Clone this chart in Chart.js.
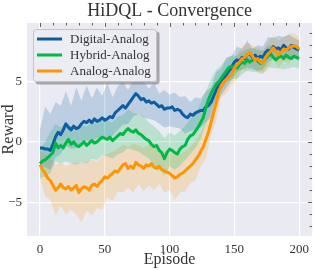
<!DOCTYPE html>
<html><head><meta charset="utf-8">
<script src="https://cdn.jsdelivr.net/npm/chart.js@4"></script>
<style>html,body{margin:0;padding:0;background:#fff}#wrap{width:315px;height:270px}</style>
</head><body><div id="wrap"><canvas id="c" width="315" height="270"></canvas></div>
<script>
// ---- data ----
const chartTitle = 'HiDQL - Convergence';
const seriesNames = ['Digital-Analog', 'Hybrid-Analog', 'Analog-Analog'];
const xTicks = [0, 50, 100, 150, 200];
const yTicks = [-5, 0, 5];
const meanStep = 2;   // mean curves sampled every 2 episodes (0..200)
const bandStep = 4;   // bands sampled every 4 episodes (0..200)

const digitalMean = [-0.5,-0.5,-0.6,-0.6,-0.7,-0.2,0.4,0.8,0.6,1.0,1.5,1.2,1.0,1.3,1.1,1.2,1.5,1.7,1.6,1.8,1.6,1.9,1.7,1.8,2.0,1.8,1.9,2.1,2.0,2.4,2.6,2.8,3.0,2.8,3.1,3.4,3.7,4.0,3.8,3.5,3.6,3.3,3.4,3.2,3.3,3.1,2.9,3.0,2.7,2.8,2.8,2.9,2.6,2.7,2.6,2.3,2.1,2.0,2.3,2.2,2.4,2.5,2.6,2.6,2.9,3.0,3.3,3.8,4.3,4.7,5.1,5.3,5.6,5.9,6.2,6.6,6.8,6.7,7.0,6.9,7.2,7.3,7.0,7.2,6.9,7.1,7.0,7.4,7.6,7.5,7.9,7.7,7.8,7.6,8.0,7.8,7.7,8.0,7.8,7.7,7.6];
const hybridMean = [-1.8,-1.6,-1.5,-1.3,-1.1,-0.9,-0.1,-0.5,-0.3,-0.5,-0.1,0.2,-0.2,0.0,-0.3,-0.4,-0.2,0.0,-0.3,-0.1,0.1,-0.1,0.0,0.2,0.4,0.3,0.2,0.4,0.1,0.3,0.5,0.7,0.6,0.9,1.1,0.9,0.8,1.0,0.7,0.6,0.4,0.2,0.1,-0.2,-0.4,-0.3,-0.7,-0.9,-1.4,-0.9,-0.6,-0.7,-0.9,-1.0,-0.6,-0.4,-0.3,0.2,0.5,0.6,0.9,1.2,1.6,2.0,2.8,3.5,4.0,4.4,4.8,5.0,5.3,5.6,5.9,6.2,6.2,6.3,6.1,6.4,6.6,6.5,6.8,6.6,6.8,6.9,6.7,6.5,6.6,6.9,7.1,7.3,7.0,6.8,7.0,7.1,6.9,7.2,7.0,6.9,7.1,7.0,6.9];
const analogMean = [-1.9,-2.3,-2.6,-3.0,-3.2,-3.6,-4.0,-3.8,-3.5,-3.8,-3.9,-3.7,-4.0,-3.8,-3.6,-4.2,-3.9,-3.7,-3.8,-4.0,-3.6,-3.5,-3.7,-3.4,-3.2,-2.9,-3.0,-2.8,-2.6,-2.4,-2.5,-2.2,-1.9,-1.8,-2.2,-2.0,-2.2,-1.7,-1.9,-2.0,-2.2,-1.9,-2.0,-1.8,-2.1,-2.2,-2.0,-2.3,-2.4,-2.5,-2.6,-2.8,-3.0,-2.9,-2.7,-2.6,-2.4,-2.2,-2.0,-1.8,-1.5,-1.2,-0.8,-0.4,0.2,0.8,1.6,2.4,3.2,4.2,4.7,5.0,5.2,5.4,5.6,6.1,6.4,6.6,6.9,7.0,7.2,7.4,7.1,6.8,6.9,6.6,6.5,7.0,7.3,7.5,7.8,7.5,7.2,7.4,7.7,7.6,7.8,7.9,8.0,7.9,7.7];

const digitalUpper = [1.0,2.9,2.3,3.3,3.0,4.2,3.0,4.5,3.4,4.7,3.6,4.5,3.8,4.9,3.7,4.6,5.0,4.3,5.2,4.9,5.0,4.4,4.9,4.0,4.3,3.9,4.1,3.7,3.8,3.3,3.7,3.6,4.2,4.5,5.8,6.1,7.0,7.1,7.9,7.7,8.4,7.7,8.0,7.9,8.7,8.6,8.8,8.7,8.9,8.6,8.4];
const digitalLower = [-2.0,-2.1,-2.3,-1.3,-1.0,-0.3,-0.6,-0.5,0.0,0.1,0.0,0.3,0.4,0.3,0.5,1.0,1.4,1.5,2.1,2.3,2.0,1.9,1.8,1.5,1.2,1.3,1.2,1.1,0.7,0.9,1.0,1.2,1.6,2.0,3.0,3.9,4.5,5.1,5.8,6.0,6.2,6.0,5.9,6.0,6.6,6.9,6.9,7.0,6.8,6.9,6.8];
const hybridUpper = [-0.6,0.0,0.8,1.5,1.2,1.6,1.3,1.2,1.4,1.3,1.6,1.5,1.9,1.7,1.6,2.1,2.2,2.7,2.4,2.3,2.1,1.6,1.3,0.9,0.3,0.8,0.5,0.9,1.3,1.9,2.3,3.2,4.2,5.2,6.0,6.4,6.9,7.2,7.1,7.5,7.7,7.8,7.6,7.5,8.0,7.9,7.8,7.9,7.8,7.9,7.6];
const hybridLower = [-3.0,-2.9,-2.6,-1.6,-1.8,-1.6,-1.8,-1.9,-1.7,-1.8,-1.4,-1.5,-1.1,-1.2,-1.4,-1.0,-0.9,-0.5,-0.7,-0.8,-1.1,-1.4,-1.9,-2.2,-2.8,-2.0,-2.3,-2.0,-1.5,-1.0,-0.5,0.2,1.5,2.8,3.6,4.3,4.9,5.2,5.2,5.6,5.9,5.8,5.8,5.7,6.2,6.1,6.1,6.0,6.1,6.2,6.1];
const analogUpper = [-0.8,-1.0,-1.3,-1.9,-1.7,-2.0,-1.8,-1.7,-1.8,-1.6,-1.5,-1.6,-1.2,-1.0,-0.8,-0.6,-0.2,-0.4,-0.1,-0.3,-0.5,-0.2,-0.4,-0.5,-0.8,-0.9,-1.1,-1.0,-0.8,-0.4,0.1,0.7,1.6,2.9,4.3,5.6,6.2,6.5,7.3,7.9,8.2,8.0,7.8,7.6,8.3,8.8,8.4,8.7,8.9,9.0,8.7];
const analogLower = [-3.0,-4.5,-4.8,-6.1,-5.3,-6.0,-5.6,-6.0,-6.7,-5.7,-6.1,-5.5,-5.6,-4.6,-4.9,-4.1,-4.2,-3.8,-4.2,-3.5,-4.1,-3.6,-4.0,-3.5,-4.2,-4.0,-4.8,-4.2,-4.1,-3.4,-3.2,-2.0,-1.4,0.5,1.8,3.7,4.0,4.8,5.2,6.0,5.9,6.3,5.7,5.6,6.0,6.9,6.1,6.7,6.5,7.0,6.6];

const colors = ['#0C5DA5', '#00B945', '#FF9500'];
const bandColors = ['rgba(12,93,165,0.2)', 'rgba(0,185,69,0.2)', 'rgba(255,149,0,0.2)'];

const toPts = (arr, step) => arr.map((v, i) => ({x: i * step, y: v}));
const means = [digitalMean, hybridMean, analogMean];
const uppers = [digitalUpper, hybridUpper, analogUpper];
const lowers = [digitalLower, hybridLower, analogLower];

const datasets = [];
for (let s = 0; s < 3; s++) {
  datasets.push({label: seriesNames[s] + ' upper', data: toPts(uppers[s], bandStep), borderWidth: 0, pointRadius: 0,
    backgroundColor: bandColors[s], fill: '+1', order: 10 + s, tension: 0});
  datasets.push({label: seriesNames[s] + ' lower', data: toPts(lowers[s], bandStep), borderWidth: 0, pointRadius: 0,
    backgroundColor: bandColors[s], fill: false, order: 10 + s, tension: 0});
}
for (let s = 0; s < 3; s++) {
  datasets.push({label: seriesNames[s], data: toPts(means[s], meanStep), borderColor: colors[s], borderWidth: 3,
    pointRadius: 0, fill: false, order: 3 - s, tension: 0, borderJoinStyle: 'round'});
}

const FONT = "'Liberation Serif', 'Times New Roman', serif";
const fmt = v => v < 0 ? '\u2212' + Math.abs(v) : String(v);

const bgPlugin = {
  id: 'bg',
  beforeDraw(chart) {
    const {ctx, chartArea: a} = chart;
    ctx.save(); ctx.fillStyle = '#EAEAF2';
    ctx.fillRect(a.left, a.top, a.right - a.left, a.bottom - a.top);
    // title centred over the plot area
    ctx.fillStyle = '#333'; ctx.font = '18px ' + FONT; ctx.textAlign = 'center'; ctx.textBaseline = 'middle';
    ctx.fillText(chartTitle, (a.left + a.right) / 2, 11);
    ctx.restore();
  }
};
const ticksPlugin = {
  id: 'edgeTicks',
  afterDraw(chart) {
    const {ctx, chartArea: a, scales} = chart;
    ctx.save(); ctx.strokeStyle = '#3a3a3a'; ctx.lineWidth = 0.8;
    for (let e = 0; e <= 200; e += 10) {
      const x = Math.round(scales.x.getPixelForValue(e)) + 0.5;
      const len = e % 50 === 0 ? 4 : 2.5;
      ctx.beginPath(); ctx.moveTo(x, a.top); ctx.lineTo(x, a.top + len); ctx.stroke();
    }
    for (let v = -7; v <= 9; v++) {
      const y = Math.round(scales.y.getPixelForValue(v)) + 0.5;
      const len = v % 5 === 0 ? 4 : 2.5;
      ctx.beginPath(); ctx.moveTo(a.right, y); ctx.lineTo(a.right - len, y); ctx.stroke();
    }
    // legend
    const bx = 33, by = 29, bw = 124, bh = 53;
    const rr = (x, y, w, h, r) => { ctx.beginPath(); ctx.moveTo(x + r, y); ctx.arcTo(x + w, y, x + w, y + h, r);
      ctx.arcTo(x + w, y + h, x, y + h, r); ctx.arcTo(x, y + h, x, y, r); ctx.arcTo(x, y, x + w, y, r); ctx.closePath(); };
    ctx.fillStyle = 'rgba(120,120,120,0.6)'; rr(bx + 2.5, by + 2.5, bw, bh, 3); ctx.fill();
    ctx.fillStyle = '#ECECF3'; rr(bx, by, bw, bh, 3); ctx.fill();
    ctx.strokeStyle = '#c4c4c8'; ctx.lineWidth = 1; rr(bx + 0.5, by + 0.5, bw - 1, bh - 1, 3); ctx.stroke();
    ctx.font = '13px ' + FONT; ctx.textBaseline = 'middle'; ctx.textAlign = 'left';
    for (let s = 0; s < 3; s++) {
      const y = 39 + s * 16;
      ctx.strokeStyle = colors[s]; ctx.lineWidth = 3; ctx.lineCap = 'butt';
      ctx.beginPath(); ctx.moveTo(37, y); ctx.lineTo(62, y); ctx.stroke();
      ctx.fillStyle = '#333'; ctx.fillText(seriesNames[s], 70, y + 0.5);
    }
    ctx.restore();
  }
};

new Chart(document.getElementById('c'), {
  type: 'line',
  data: {datasets},
  options: {
    responsive: false, animation: false, devicePixelRatio: 1,
    layout: {padding: {top: 23, right: 2, left: 0, bottom: 0}},
    plugins: {legend: {display: false}, tooltip: {enabled: false}, title: {display: false}},
    scales: {
      x: {type: 'linear', min: -10, max: 210,
        afterBuildTicks: s => { s.ticks = xTicks.map(v => ({value: v})); },
        afterFit: s => { s.height = 34; },
        grid: {color: '#ffffff', lineWidth: 1.2, drawTicks: false}, border: {display: false},
        ticks: {padding: 6, color: '#333', font: {family: FONT, size: 13}, callback: v => fmt(v), maxRotation: 0},
        title: {display: true, text: 'Episode', color: '#333', font: {family: FONT, size: 16, lineHeight: 1.1}, padding: {top: 0, bottom: 1}}
      },
      y: {type: 'linear', min: -7.8, max: 9.85,
        afterBuildTicks: s => { s.ticks = yTicks.map(v => ({value: v})); },
        afterFit: s => { s.width = 27; },
        grid: {color: '#ffffff', lineWidth: 1.2, drawTicks: false}, border: {display: false},
        ticks: {padding: 5, color: '#333', font: {family: FONT, size: 13}, callback: v => fmt(v)},
        title: {display: true, text: 'Reward', color: '#333', font: {family: FONT, size: 16, lineHeight: 1.1}, padding: {top: 0, bottom: 0}}
      }
    }
  },
  plugins: [bgPlugin, ticksPlugin]
});
</script></body></html>
